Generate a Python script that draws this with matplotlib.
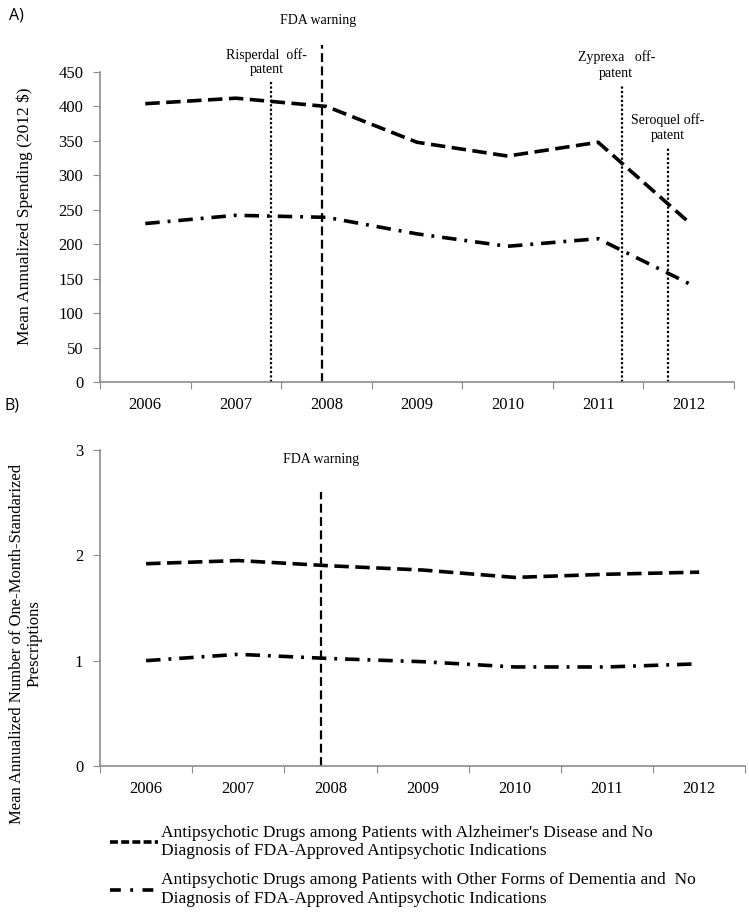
import numpy as np
import matplotlib.pyplot as plt
from matplotlib.lines import Line2D

plt.rcParams['font.family'] = ['Liberation Serif', 'DejaVu Serif']

years = ['2006', '2007', '2008', '2009', '2010', '2011', '2012']

# panel A: mean annualized spending (2012 $)
spend_alz = [404, 412, 400, 348, 328, 348, 232]
spend_other = [230, 242, 239, 215, 197, 208, 143]

# panel B: mean annualized number of one-month standardized prescriptions
rx_alz = [1.92, 1.95, 1.90, 1.86, 1.79, 1.82, 1.84]
rx_other = [1.00, 1.06, 1.02, 0.99, 0.94, 0.94, 0.97]

# event markers (x in category units, top of line in data units)
events_a = [
    ('Risperdal  off-\npatent', 1.39, 435, 'dotted'),
    ('FDA warning', 1.95, 489, 'dashed'),
    ('Zyprexa   off-\npatent', 5.26, 431, 'dotted'),
    ('Seroquel off-\npatent', 5.77, 341, 'dotted'),
]
events_b = [('FDA warning', 1.90, 2.6, 'dashed')]

labels = ["Antipsychotic Drugs among Patients with Alzheimer's Disease and No\n"
          "Diagnosis of FDA-Approved Antipsychotic Indications",
          "Antipsychotic Drugs among Patients with Other Forms of Dementia and  No\n"
          "Diagnosis of FDA-Approved Antipsychotic Indications"]

dash_style = (0, (4, 1.8))
dashdot_style = (0, (4, 2.2, 0.8, 2.2))
grey = '#8c8c8c'

fig = plt.figure(figsize=(7.49, 9.22), dpi=100)
ax1 = fig.add_axes([0.1335, 0.5857, 0.8465, 0.3362])
ax2 = fig.add_axes([0.1335, 0.1692, 0.8615, 0.3428])

x = np.arange(len(years))


def style_axis(ax, ymax, yticks):
    ax.set_xlim(-0.5, len(years) - 0.5)
    ax.set_ylim(0, ymax)
    ax.set_yticks(yticks)
    ax.set_xticks(np.arange(-0.5, len(years)), labels=[])
    ax.set_xticks(x, labels=years, minor=True)
    ax.tick_params(axis='x', which='major', length=5, color=grey, direction='out')
    ax.tick_params(axis='x', which='minor', length=0, pad=11, labelsize=12)
    ax.tick_params(axis='y', length=5, color=grey, pad=7, labelsize=12)
    for s in ['top', 'right']:
        ax.spines[s].set_visible(False)
    for s in ['left', 'bottom']:
        ax.spines[s].set_color(grey)
        ax.spines[s].set_linewidth(1.2)


# ---- panel A
ax1.plot(x, spend_alz, color='black', lw=2.6, linestyle=dash_style)
ax1.plot(x, spend_other, color='black', lw=2.6, linestyle=dashdot_style)
for name, ex, top, ls in events_a:
    if ls == 'dotted':
        ax1.plot([ex, ex], [0, top], color='black', lw=1.6, linestyle=(0, (1, 1)),
                 clip_on=False)
    else:
        ax1.plot([ex, ex], [0, top], color='black', lw=1.6, linestyle=(0, (4, 2)),
                 clip_on=False)
ax1.text(1.34, 444, events_a[0][0], ha='center', va='bottom', fontsize=10,
         linespacing=1.15)
ax1.text(1.91, 516, events_a[1][0], ha='center', va='bottom', fontsize=10)
ax1.text(5.2, 439, events_a[2][0], ha='center', va='bottom', fontsize=10,
         linespacing=1.3)
ax1.text(5.77, 349, events_a[3][0], ha='center', va='bottom', fontsize=10,
         linespacing=1.15)
style_axis(ax1, 450, np.arange(0, 451, 50))
ax1.set_ylabel('Mean Annualized Spending (2012 $)', fontsize=12.5)
ax1.yaxis.set_label_coords(-0.105, 0.535)

# ---- panel B
ax2.plot(x, rx_alz, color='black', lw=2.6, linestyle=dash_style)
ax2.plot(x, rx_other, color='black', lw=2.6, linestyle=dashdot_style)
for name, ex, top, ls in events_b:
    ax2.plot([ex, ex], [0, top], color='black', lw=1.6, linestyle=(0, (4, 2)))
    ax2.text(ex, 2.85, name, ha='center', va='bottom', fontsize=10)
style_axis(ax2, 3, [0, 1, 2, 3])

fig.text(0.034, 1 - 644 / 922,
         'Mean Annualized Number of One-Month-Standarized\nPrescriptions',
         rotation=90, ha='center', va='center', fontsize=12, linespacing=1.15)

fig.text(0.012, 1 - 15 / 922, 'A)', family='Open Sans', fontsize=11.5,
         ha='left', va='center')
fig.text(0.006, 1 - 405 / 922, 'B)', family='Open Sans', fontsize=11.5,
         ha='left', va='center')

handles = [Line2D([], [], color='black', lw=2.6, linestyle=(0, (2.2, 0.9))),
           Line2D([], [], color='black', lw=2.6, linestyle=(0, (3, 2.6, 0.8, 2.6)))]
leg = fig.legend(handles, labels, loc='upper left',
                 bbox_to_anchor=(0.147, 1 - 825 / 922),
                 frameon=False, fontsize=12.5, handlelength=2.75, handletextpad=0.17,
                 labelspacing=0.75, borderaxespad=0, borderpad=0)
for t in leg.get_texts():
    t.set_linespacing(1.2)

fig.savefig('out.png', dpi=100)
